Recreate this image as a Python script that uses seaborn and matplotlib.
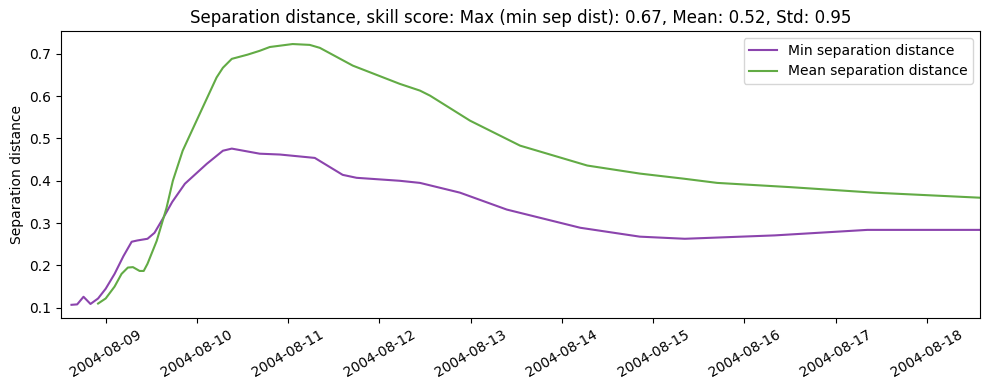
import matplotlib
matplotlib.use("Agg")
import matplotlib.pyplot as plt
import matplotlib.dates as mdates
import seaborn as sns
import pandas as pd

min_times = ["2004-08-08 15:00", "2004-08-08 16:30", "2004-08-08 18:10", "2004-08-08 20:00",
             "2004-08-08 22:00", "2004-08-09 00:00", "2004-08-09 02:20", "2004-08-09 04:40",
             "2004-08-09 06:50", "2004-08-09 08:20", "2004-08-09 11:00", "2004-08-09 12:50",
             "2004-08-09 15:00", "2004-08-09 17:30", "2004-08-09 20:50", "2004-08-10 02:35",
             "2004-08-10 06:50", "2004-08-10 09:10", "2004-08-10 16:30",
             "2004-08-10 21:50", "2004-08-11 07:00", "2004-08-11 14:20", "2004-08-11 18:00",
             "2004-08-12 05:20", "2004-08-12 10:40", "2004-08-12 21:10", "2004-08-13 09:30",
             "2004-08-14 04:50", "2004-08-14 20:30", "2004-08-15 08:20", "2004-08-16 08:00",
             "2004-08-17 08:20", "2004-08-18 14:00"]
min_sep = [0.107, 0.108, 0.126, 0.109, 0.122, 0.145, 0.180, 0.222,
           0.256, 0.259, 0.263, 0.277, 0.310, 0.350, 0.393, 0.440,
           0.471, 0.476, 0.464, 0.462, 0.454, 0.414, 0.407,
           0.400, 0.395, 0.372, 0.332, 0.289, 0.268, 0.263, 0.271,
           0.284, 0.284]

mean_times = ["2004-08-08 22:00", "2004-08-09 00:00", "2004-08-09 02:20", "2004-08-09 04:10",
              "2004-08-09 05:50", "2004-08-09 07:10", "2004-08-09 08:55", "2004-08-09 10:00",
              "2004-08-09 11:00", "2004-08-09 13:25", "2004-08-09 16:00", "2004-08-09 17:40",
              "2004-08-09 20:15", "2004-08-09 22:40", "2004-08-10 01:30", "2004-08-10 05:10",
              "2004-08-10 06:50", "2004-08-10 09:10", "2004-08-10 13:20", "2004-08-10 16:30",
              "2004-08-10 19:10", "2004-08-11 01:10",
              "2004-08-11 05:40", "2004-08-11 08:20", "2004-08-11 17:00", "2004-08-12 05:20",
              "2004-08-12 10:40", "2004-08-12 13:20", "2004-08-12 23:50", "2004-08-13 13:00",
              "2004-08-14 06:40", "2004-08-14 20:30", "2004-08-15 08:00", "2004-08-15 16:50",
              "2004-08-16 12:00", "2004-08-17 10:00", "2004-08-18 14:00"]
mean_sep = [0.110, 0.122, 0.150, 0.180, 0.195, 0.196, 0.187, 0.187,
            0.204, 0.258, 0.336, 0.400, 0.471, 0.518, 0.573, 0.644,
            0.667, 0.688, 0.698, 0.707, 0.716, 0.723, 0.721, 0.714,
            0.672, 0.629, 0.613, 0.601, 0.542, 0.483, 0.436, 0.417,
            0.405, 0.395, 0.385, 0.372, 0.360]

title = "Separation distance, skill score: Max (min sep dist): 0.67, Mean: 0.52, Std: 0.95"
series_names = ["Min separation distance", "Mean separation distance"]
colors = ["#8B44AD", "#62AB45"]

df = pd.concat([
    pd.DataFrame({"time": pd.to_datetime(min_times), "value": min_sep, "series": series_names[0]}),
    pd.DataFrame({"time": pd.to_datetime(mean_times), "value": mean_sep, "series": series_names[1]}),
])

plt.style.use("default")
plt.rcParams['font.family'] = ['DejaVu Sans']
fig, ax = plt.subplots(figsize=(9.89, 3.9), dpi=100)
sns.lineplot(data=df, x="time", y="value", hue="series", palette=colors, ax=ax, linewidth=1.5)
ax.set_xlim(pd.Timestamp("2004-08-08 12:15"), pd.Timestamp("2004-08-18 14:00"))
ax.xaxis.set_major_locator(mdates.DayLocator())
ax.xaxis.set_major_formatter(mdates.DateFormatter("%Y-%m-%d"))
for lbl in ax.get_xticklabels():
    lbl.set_rotation(30)
ax.set_xlabel("")
ax.set_ylabel("Separation distance")
ax.set_title(title)
ax.legend(title=None, loc="upper right")
fig.subplots_adjust(left=0.0617, right=0.991, bottom=0.185, top=0.9205)
fig.savefig("out.png", dpi=100)
